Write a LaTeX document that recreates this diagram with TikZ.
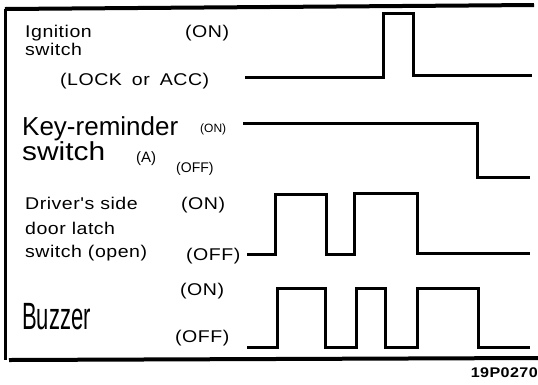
\documentclass[tikz,border=0pt]{standalone}
\usepackage{fontspec}
\setmainfont{Liberation Sans}
\newfontfamily\widefont[FakeStretch=1.15,LetterSpace=3]{Liberation Sans}
\newfontfamily\keyfont{Liberation Sans}
\newfontfamily\swfont[FakeStretch=1.15]{Liberation Sans}
\newfontfamily\buzzfont[FakeStretch=0.58]{Liberation Sans}

\begin{document}
\begin{tikzpicture}[x=1pt, y=-1pt,
      lbl/.style={font=\widefont\fontsize{17}{17}\selectfont,
                  inner sep=0pt, anchor=base west},
      keylbl/.style={font=\keyfont\fontsize{26}{26}\selectfont,
                     inner sep=0pt, anchor=base west},
      state/.style={font=\fontsize{14}{14}\selectfont,
                    inner sep=0pt, anchor=base west},
      wave/.style={line width=3pt, line join=miter},
      rule/.style={line width=4pt}
    ]
    \useasboundingbox (0,0) rectangle (538,384);

    % Frame
    \coordinate (tl) at (5,9);
    \coordinate (tr) at (534,5);
    \coordinate (bl) at (5,360);
    \coordinate (br) at (538,358);
    \draw[rule] (tl) -- (tr);
    \draw[line width=3pt] (tl) -- (bl);
    \draw[rule] ([xshift=4pt]bl) -- (br);

    % Ignition switch
    \node[lbl] (ign)   at (25,37)  {Ignition};
    \node[lbl] (ignsw) at (25,55)  {switch};
    \node[lbl] (ignon) at (185,37) {(ON)};
    \node[lbl] (ignoff) at (60,85) {(LOCK\hspace{10pt}or\hspace{10pt}ACC)};
    \draw[wave] (245,77) -- (383,77) -- (383,13) -- (413,13)
                -- (413,75) -- (532,75);

    % Key-reminder switch
    \node[keylbl] (key)   at (22,135) {Key-reminder};
    \node[keylbl, font=\swfont\fontsize{26}{26}\selectfont] (keysw) at (22,160) {switch};
    \node[state, font=\fontsize{12}{12}\selectfont] (keyon) at (200,132) {(ON)};
    \node[state, font=\fontsize{15}{15}\selectfont] (keya) at (136,162) {(A)};
    \node[state] (keyoff) at (176,172) {(OFF)};
    \draw[wave] (243,123) -- (477,123) -- (477,177) -- (530,177);

    % Driver's side door latch switch
    \node[lbl] (drv)    at (25,209)  {Driver's side};
    \node[lbl] (drv2)   at (25,234)  {door latch};
    \node[lbl] (drv3)   at (25,257)  {switch (open)};
    \node[lbl] (drvon)  at (181,209) {(ON)};
    \node[lbl] (drvoff) at (186,260) {(OFF)};
    \draw[wave] (247,254) -- (275,254) -- (275,194) -- (326,194)
                -- (326,254) -- (354,254) -- (354,193) -- (417,193)
                -- (417,253) -- (530,253);

    % Buzzer
    \node[keylbl, font=\buzzfont\fontsize{38}{38}\selectfont] (buz) at (22,329) {Buzzer};
    \node[lbl] (buzon)  at (180,295) {(ON)};
    \node[lbl] (buzoff) at (175,342) {(OFF)};
    \draw[wave] (247,347) -- (277,347) -- (277,288) -- (325,288)
                -- (325,347) -- (356,347) -- (356,288) -- (385,288)
                -- (385,347) -- (417,347) -- (417,288) -- (478,288)
                -- (478,347) -- (530,347);

    % Figure number
    \node[lbl, anchor=base east, font=\widefont\bfseries\fontsize{14}{14}\selectfont]
         (fig) at (538,377) {19P0270};

  \end{tikzpicture}
\end{document}
